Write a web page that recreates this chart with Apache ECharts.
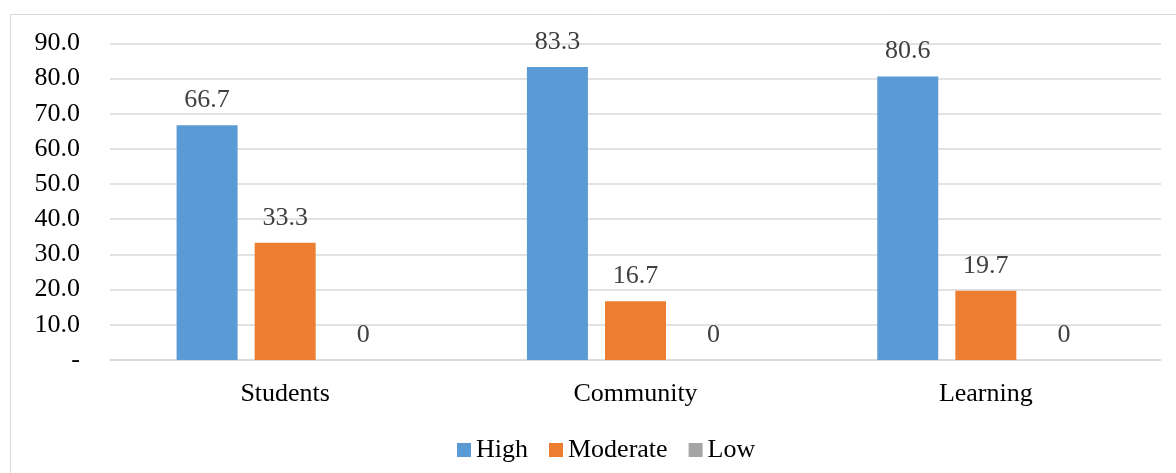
<!DOCTYPE html>
<html>
<head>
<meta charset="utf-8">
<script src="https://cdn.jsdelivr.net/npm/echarts@6/dist/echarts.min.js"></script>
<style>
html,body{margin:0;padding:0;background:#fff;}
#chart{width:1176px;height:473px;}
</style>
</head>
<body>
<div id="chart"></div>
<script>
const categories = ['Students', 'Community', 'Learning'];
const seriesNames = ['High', 'Moderate', 'Low'];
const highValues = [66.7, 83.3, 80.6];
const moderateValues = [33.3, 16.7, 19.7];
const lowValues = [0, 0, 0];
const yTicks = { min: 0, max: 90, interval: 10 };

const FONT = "'Liberation Serif', 'Times New Roman', serif";
const colors = ['#5B9BD5', '#ED7D31', '#A5A5A5'];

const chart = echarts.init(document.getElementById('chart'));

function makeSeries(name, data, color) {
  return {
    name: name,
    type: 'bar',
    data: data,
    barWidth: 61,
    barGap: '28%',
    itemStyle: { color: color },
    label: {
      show: true,
      position: 'top',
      distance: 12,
      color: '#404040',
      fontFamily: FONT,
      fontSize: 26,
      formatter: function (p) { return String(p.value); }
    }
  };
}

chart.setOption({
  animation: false,
  color: colors,
  graphic: [{
    type: 'rect',
    shape: { x: 10.5, y: 14.5, width: 1300, height: 600 },
    style: { fill: 'none', stroke: '#D9D9D9', lineWidth: 1 },
    silent: true,
    z: -1
  }],
  grid: { left: 110, right: 15, top: 43.3, bottom: 113, containLabel: false },
  legend: {
    data: seriesNames,
    left: 452,
    top: 432,
    itemWidth: 14,
    itemHeight: 14,
    itemGap: 21,
    icon: 'rect',
    textStyle: { fontFamily: FONT, fontSize: 26, color: '#000' }
  },
  xAxis: {
    type: 'category',
    data: categories,
    axisLine: { show: true, lineStyle: { color: '#D9D9D9', width: 1.5 } },
    axisTick: { show: false },
    axisLabel: { fontFamily: FONT, fontSize: 26, color: '#000', margin: 21 }
  },
  yAxis: {
    type: 'value',
    min: yTicks.min,
    max: yTicks.max,
    interval: yTicks.interval,
    axisLine: { show: false },
    axisTick: { show: false },
    splitLine: { lineStyle: { color: '#D9D9D9', width: 1.5 } },
    axisLabel: {
      fontFamily: FONT, fontSize: 26, color: '#000', margin: 30,
      formatter: function (v) { return v === 0 ? '-' : v.toFixed(1); }
    }
  },
  series: [
    makeSeries(seriesNames[0], highValues, colors[0]),
    makeSeries(seriesNames[1], moderateValues, colors[1]),
    makeSeries(seriesNames[2], lowValues, colors[2])
  ]
});
</script>
</body>
</html>
